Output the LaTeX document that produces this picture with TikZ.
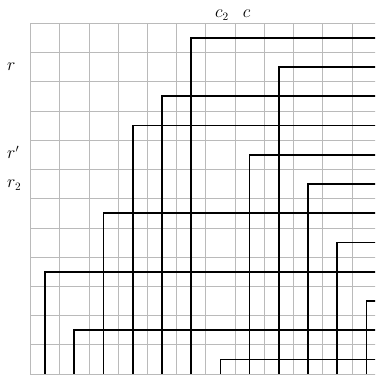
\documentclass[tikz,border=0pt]{standalone}
\begin{document}
\begin{tikzpicture}[x=1cm,y=1cm,
  gridline/.style={draw=black!27, line width=0.6pt},
  hook/.style={draw=black, line width=1.6pt},
  lbl/.style={font=\fontsize{16}{18}\selectfont, inner sep=0pt, anchor=base west},
  toplbl/.style={font=\fontsize{16}{18}\selectfont, inner sep=0pt, anchor=base}]
\useasboundingbox (-1.04,-0.103) rectangle (11.79,12.795);
\begin{scope}
  \clip (-1.04,-0.103) rectangle (11.79,12.795);
  \draw[gridline] (0,0) grid (12,12);
  \foreach \x/\h in {0.5/3.5, 1.5/1.5, 2.5/5.5, 3.5/8.5, 4.5/9.5, 5.5/11.5,
                     6.5/0.5, 7.5/7.5, 8.5/10.5, 9.5/6.5, 10.5/4.5, 11.5/2.5}
    \draw[hook] (\x,0) |- (12.5,\h);
\end{scope}
\node[lbl] (r) at (-0.8,10.37) {$r$};
\node[lbl] (rp) at (-0.8,7.37) {$r'$};
\node[lbl] (r2) at (-0.8,6.37) {$r_2$};
\node[toplbl] (c2) at (6.55,12.18) {$c_2$};
\node[toplbl] (c) at (7.4,12.18) {$c$};
\end{tikzpicture}
\end{document}
